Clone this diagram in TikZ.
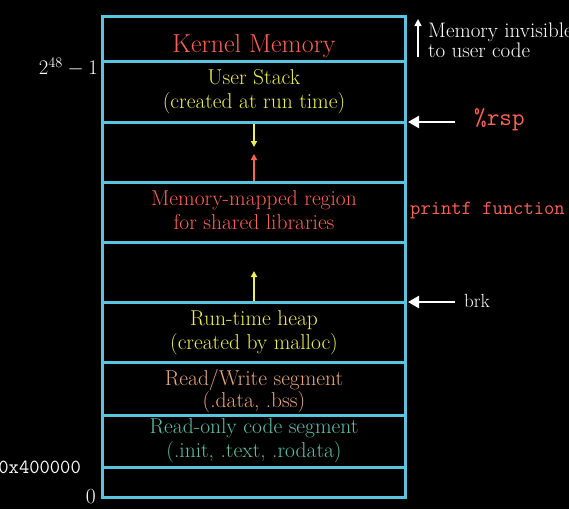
\documentclass[tikz,border=0pt]{standalone}
\usetikzlibrary{arrows.meta}
\definecolor{mblue}{HTML}{58C4DD}
\definecolor{mred}{HTML}{FC6255}
\definecolor{myellow}{HTML}{EEEE55}
\definecolor{mpeach}{HTML}{E8A77A}
\definecolor{mteal}{HTML}{5CC0A8}
\begin{document}
\begin{tikzpicture}[x=1pt,y=-1pt,
  seg/.style={draw=mblue, line width=3pt, minimum width=303pt, inner sep=0pt},
  txt/.style={align=center, inner sep=0pt, font=\fontsize{21.5}{24}\selectfont},
  warrow/.style={white, line width=2.5pt, -{Triangle[length=11pt,width=12pt]}},
  sarrow/.style={line width=1.5pt, -{Triangle[length=6pt,width=6pt]}}]
\fill[black] (0,0) rectangle (569,509);
\useasboundingbox (0,0) rectangle (569,509);
% segments
\node[seg, minimum height=45pt] (kern) at (253.5,38.5) {};
\node[seg, minimum height=61pt] (stack) at (253.5,91.5) {};
\node[seg, minimum height=60pt] (gapa) at (253.5,152) {};
\node[seg, minimum height=60pt] (mmap) at (253.5,212) {};
\node[seg, minimum height=60pt] (gapb) at (253.5,272) {};
\node[seg, minimum height=60pt] (heap) at (253.5,332) {};
\node[seg, minimum height=53pt] (rw) at (253.5,388.5) {};
\node[seg, minimum height=52pt] (ro) at (253.5,441) {};
\node[seg, minimum height=30pt] (low) at (253.5,482) {};
% texts
\node[txt, text=mred, font=\fontsize{26}{28}\selectfont] (kernt) at (254,46) {Kernel Memory};
\node[txt, text=myellow] (stackt) at (254,92) {User Stack\\(created at run time)};
\node[txt, text=mred] (mmapt) at (254,210) {Memory-mapped region\\for shared libraries};
\node[txt, text=myellow] (heapt) at (254,333) {Run-time heap\\(created by malloc)};
\node[txt, text=mpeach, font=\fontsize{21.5}{19.5}\selectfont] (rwt) at (254,391) {Read/Write segment\\(.data, .bss)};
\node[txt, text=mteal] (rot) at (254,441) {Read-only code segment\\(.init, .text, .rodata)};
% inner arrows
\coordinate (sd) at (254,147);
\coordinate (mu) at (254,154);
\coordinate (hu) at (254,271);
\draw[sarrow, myellow] (stack.south -| sd) -- (sd);
\draw[sarrow, mred] (mmap.north -| mu) -- (mu);
\draw[sarrow, myellow] (heap.north -| hu) -- (hu);
% left labels
\node[txt, white, anchor=east, font=\fontsize{22}{24}\selectfont] (top) at (98,67) {$2^{48}-1$};
\node[txt, white, anchor=east, font=\fontsize{20}{22}\selectfont\ttfamily] (hex) at (81,467) {0x400000};
\node[txt, white, anchor=east] (zero) at (96,497) {0};
% right labels
\node[txt, text=mred, anchor=west, font=\fontsize{24.5}{26}\selectfont\ttfamily] (rsp) at (474,120) {\%rsp};
\node[txt, text=mred, anchor=west, font=\fontsize{20}{22}\selectfont\ttfamily] (printf) at (410,211) {printf function};
\node[txt, white, anchor=west, font=\fontsize{19}{22}\selectfont] (brk) at (464,301) {brk};
\coordinate (rspa) at (408,122);
\coordinate (rsps) at (455,122);
\coordinate (brka) at (408,302);
\coordinate (brks) at (455,302);
\draw[warrow] (rsps) -- (rspa);
\draw[warrow] (brks) -- (brka);
% invisible
\node[txt, white, anchor=north west, align=left, font=\fontsize{21}{14}\selectfont] (inv) at (428,23) {Memory invisible\\to user code};
\coordinate (invb) at (418,57);
\coordinate (invt) at (418,19);
\draw[white, line width=1.5pt, -{Triangle[length=7pt,width=7pt]}] (invb) -- (invt);
\end{tikzpicture}
\end{document}
